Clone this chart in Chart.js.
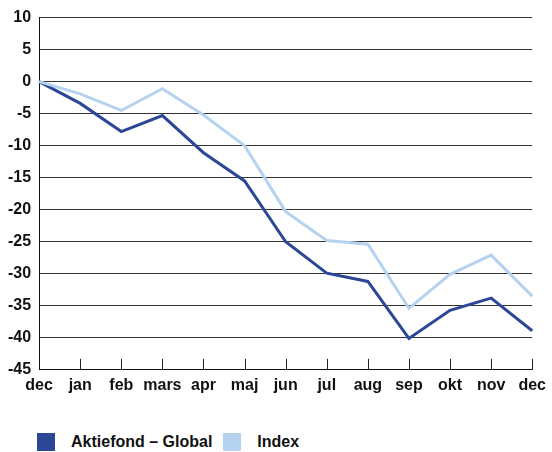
<!DOCTYPE html>
<html>
<head>
<meta charset="utf-8">
<script src="https://cdn.jsdelivr.net/npm/chart.js@4.4.0/dist/chart.umd.min.js"></script>
<style>
  body { margin: 0; background: #fff; }
  #wrap { position: relative; width: 552px; height: 452px; }
  #box { position: absolute; left: 0; top: 0; width: 552px; height: 401px; }
  #legend { position: absolute; left: 37px; top: 433px; display: flex; font: bold 16px 'Liberation Sans Narrow', 'Liberation Sans', Arial, sans-serif; color: #111; }
  #legend span.item { display: flex; align-items: center; margin-right: 11px; }
  #legend span.sw { width: 18px; height: 18px; margin-right: 16px; display: inline-block; }
</style>
</head>
<body>
<div id="wrap">
  <div id="box"><canvas id="myChart"></canvas></div>
  <div id="legend"></div>
</div>
<script>
var months = ['dec', 'jan', 'feb', 'mars', 'apr', 'maj', 'jun', 'jul', 'aug', 'sep', 'okt', 'nov', 'dec'];
var fund = [0, -3.4, -7.8, -5.3, -11.1, -15.5, -25.0, -29.9, -31.2, -40.1, -35.7, -33.8, -38.9];
var index = [0, -1.9, -4.5, -1.1, -5.2, -10.0, -20.3, -24.8, -25.4, -35.4, -30.1, -27.1, -33.5];
var seriesNames = ['Aktiefond \u2013 Global', 'Index'];
var seriesColors = ['#2d4797', '#b5d3ee'];

var fontFamily = "'Liberation Sans Narrow', 'Liberation Sans', Arial, sans-serif";

// little tick marks pointing up from the x axis
var innerTicks = {
	id: 'innerTicks',
	afterDraw: function(chart) {
		var ctx = chart.ctx;
		var xs = chart.scales.x;
		var bottom = chart.chartArea.bottom;
		ctx.save();
		ctx.strokeStyle = '#222';
		ctx.lineWidth = 1;
		for (var i = 1; i < months.length; i++) {
			var x = Math.round(xs.getPixelForValue(i)) + 0.5;
			ctx.beginPath();
			ctx.moveTo(x, bottom);
			ctx.lineTo(x, bottom - 11);
			ctx.stroke();
		}
		ctx.restore();
	}
};

var chart = new Chart(document.getElementById('myChart'), {
	type: 'line',
	data: {
		labels: months,
		datasets: [
			{ label: seriesNames[0], data: fund, borderColor: seriesColors[0], backgroundColor: seriesColors[0], borderWidth: 3, pointRadius: 0, tension: 0, fill: false },
			{ label: seriesNames[1], data: index, borderColor: seriesColors[1], backgroundColor: seriesColors[1], borderWidth: 3, pointRadius: 0, tension: 0, fill: false }
		].reverse()
	},
	options: {
		responsive: true,
		maintainAspectRatio: false,
		animation: false,
		layout: { padding: { top: 9, right: 11, left: 0, bottom: 0 } },
		plugins: { legend: { display: false }, tooltip: { enabled: false } },
		scales: {
			x: {
				offset: false,
				grid: { display: false, drawTicks: false },
				border: { color: '#111', width: 1 },
				ticks: { color: '#111', padding: 6, maxRotation: 0, autoSkip: false, font: { family: fontFamily, size: 16, weight: 'bold' } }
			},
			y: {
				min: -45,
				max: 10,
				grid: { color: '#333', lineWidth: 1, drawTicks: false },
				border: { color: '#111', width: 1 },
				ticks: { stepSize: 5, color: '#111', padding: 8, font: { family: fontFamily, size: 16, weight: 'bold' } }
			}
		}
	},
	plugins: [innerTicks]
});

var legend = document.getElementById('legend');
for (var i = 0; i < seriesNames.length; i++) {
	var item = document.createElement('span');
	item.className = 'item';
	item.innerHTML = '<span class="sw" style="background:' + seriesColors[i] + '"></span>' + seriesNames[i];
	legend.appendChild(item);
}
</script>
</body>
</html>
